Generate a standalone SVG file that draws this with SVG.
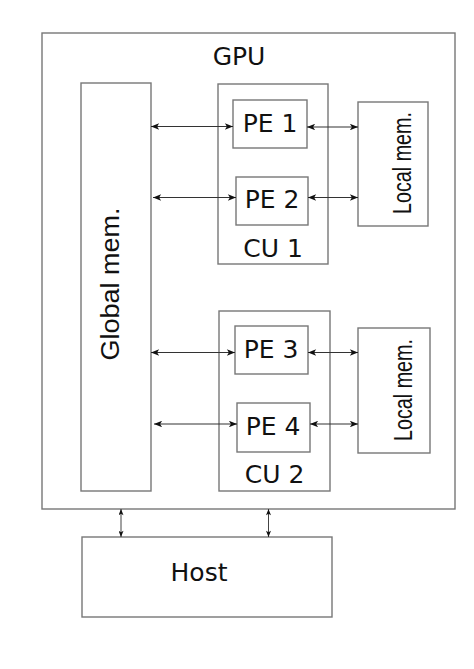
<svg xmlns="http://www.w3.org/2000/svg" width="474" height="669" viewBox="0 0 474 669">
  <style>
    .box { fill: #ffffff; stroke: #777777; stroke-width: 1.4; }
    .lbl { font-family: "DejaVu Sans", sans-serif; font-size: 25px; fill: #111111; text-anchor: middle; }
    .lbl2 { font-family: "Liberation Sans", Arial, sans-serif; font-size: 25px; fill: #111111; text-anchor: middle; }
    .conn { fill: none; stroke: #333333; stroke-width: 1.2; }
    .conn2 { fill: none; stroke: #444444; stroke-width: 1; }
  </style>
  <defs>
    <marker id="ah" viewBox="0 0 10 8" refX="10" refY="4" markerWidth="9" markerHeight="6.5" markerUnits="userSpaceOnUse" orient="auto-start-reverse">
      <path d="M0,0 L10,4 L0,8 L2.5,4 Z" fill="#111111"/>
    </marker>
    <marker id="ahs" viewBox="0 0 10 8" refX="10" refY="4" markerWidth="7" markerHeight="5" markerUnits="userSpaceOnUse" orient="auto-start-reverse">
      <path d="M0,0 L10,4 L0,8 L2.5,4 Z" fill="#111111"/>
    </marker>
  </defs>
  <rect width="474" height="669" fill="#ffffff"/>

  <g id="gpu">
    <rect class="box" x="42" y="33" width="413" height="476"/>
    <text class="lbl" x="239" y="65">GPU</text>
  </g>

  <g id="global-mem">
    <rect class="box" x="81" y="83" width="70" height="408"/>
    <text class="lbl2" transform="translate(119,284) rotate(-90)" textLength="153" lengthAdjust="spacingAndGlyphs">Global mem.</text>
  </g>

  <g id="cu1">
    <rect class="box" x="218" y="84" width="110" height="180"/>
    <text class="lbl" x="273" y="257">CU 1</text>
  </g>
  <g id="pe1">
    <rect class="box" x="233" y="100" width="74" height="48"/>
    <text class="lbl" x="270" y="132">PE 1</text>
  </g>
  <g id="pe2">
    <rect class="box" x="236" y="177" width="72" height="48"/>
    <text class="lbl" x="272" y="208">PE 2</text>
  </g>
  <g id="local-mem-1">
    <rect class="box" x="358" y="102" width="70" height="124"/>
    <text class="lbl2" transform="translate(411,163) rotate(-90)" textLength="102" lengthAdjust="spacingAndGlyphs">Local mem.</text>
  </g>

  <g id="cu2">
    <rect class="box" x="219" y="311" width="111" height="180"/>
    <text class="lbl" x="274.5" y="483">CU 2</text>
  </g>
  <g id="pe3">
    <rect class="box" x="235" y="326" width="73" height="48"/>
    <text class="lbl" x="271" y="358">PE 3</text>
  </g>
  <g id="pe4">
    <rect class="box" x="237" y="403" width="73" height="49"/>
    <text class="lbl" x="273" y="435">PE 4</text>
  </g>
  <g id="local-mem-2">
    <rect class="box" x="358" y="328" width="72" height="125"/>
    <text class="lbl2" transform="translate(412,390) rotate(-90)" textLength="102" lengthAdjust="spacingAndGlyphs">Local mem.</text>
  </g>

  <g id="host">
    <rect class="box" x="82" y="537" width="250" height="80"/>
    <text class="lbl" x="199" y="581">Host</text>
  </g>

  <g id="connectors">
    <line class="conn" x1="151" y1="126.5" x2="233" y2="126.5" marker-start="url(#ah)" marker-end="url(#ah)"/>
    <line class="conn" x1="307" y1="127" x2="358" y2="127" marker-start="url(#ah)" marker-end="url(#ah)"/>
    <line class="conn" x1="153" y1="197.5" x2="236" y2="197.5" marker-start="url(#ah)" marker-end="url(#ah)"/>
    <line class="conn" x1="308" y1="197.5" x2="358" y2="197.5" marker-start="url(#ah)" marker-end="url(#ah)"/>
    <line class="conn" x1="151" y1="352.5" x2="235" y2="352.5" marker-start="url(#ah)" marker-end="url(#ah)"/>
    <line class="conn" x1="308" y1="352.5" x2="358" y2="352.5" marker-start="url(#ah)" marker-end="url(#ah)"/>
    <line class="conn" x1="154" y1="424" x2="237" y2="424" marker-start="url(#ah)" marker-end="url(#ah)"/>
    <line class="conn" x1="310" y1="424" x2="358" y2="424" marker-start="url(#ah)" marker-end="url(#ah)"/>
    <line class="conn2" x1="121" y1="509" x2="121" y2="537" marker-start="url(#ahs)" marker-end="url(#ahs)"/>
    <line class="conn2" x1="268.5" y1="509" x2="268.5" y2="537" marker-start="url(#ahs)" marker-end="url(#ahs)"/>
  </g>
</svg>
